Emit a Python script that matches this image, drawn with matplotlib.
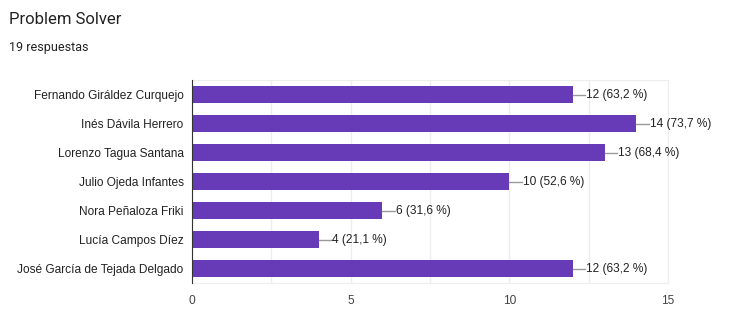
import matplotlib.pyplot as plt
import numpy as np

plt.rcParams['font.family'] = ['Roboto', 'DejaVu Sans']
CHART_FONT = ['Liberation Sans', 'DejaVu Sans']

TITLE     = 'Problem Solver'
SUBTITLE  = '19 respuestas'
names     = ['Fernando Giráldez Curquejo', 'Inés Dávila Herrero', 'Lorenzo Tagua Santana',
             'Julio Ojeda Infantes', 'Nora Peñaloza Friki', 'Lucía Campos Díez',
             'José García de Tejada Delgado']
counts    = [12, 14, 13, 10, 6, 4, 12]
percents  = ['63,2', '73,7', '68,4', '52,6', '31,6', '21,1', '63,2']
xticks    = [0, 5, 10, 15]

BAR_COLOR  = '#673ab7'
GRID_COLOR = '#ededed'
TEXT_COLOR = '#222222'
FS         = 8.6

fig = plt.figure(figsize = (7.42, 3.29), dpi = 100)
ax  = fig.add_axes([192 / 742, 1 - 283 / 329, 476 / 742, 203 / 329])

y = np.arange(len(names))
ax.barh(y, counts, height = 0.62, color = BAR_COLOR, zorder = 3)

# leader lines and value labels
for yi, c, p in zip(y, counts, percents):
  ax.plot([c, c + 0.4], [yi, yi], color = '#999999', lw = 1, zorder = 3)
  ax.text(c + 0.42, yi, fr'{c} ({p} %)', va = 'center', ha = 'left',
          fontsize = FS, color = TEXT_COLOR, family = CHART_FONT)

ax.set_ylim(len(names) - 0.5, -0.5)
ax.set_xlim(0, 15)
ax.set_yticks(y)
ax.set_yticklabels(names, fontsize = FS, color = TEXT_COLOR, family = CHART_FONT)
ax.set_xticks(xticks)
ax.set_xticklabels([str(t) for t in xticks], fontsize = FS, color = '#444444', family = CHART_FONT)
ax.set_xticks(np.arange(0, 15.1, 2.5), minor = True)
ax.tick_params(axis = 'both', length = 0, which = 'both')
ax.tick_params(axis = 'x', pad = 9)
ax.tick_params(axis = 'y', pad = 6)

ax.grid(axis = 'x', which = 'both', color = GRID_COLOR, lw = 1, zorder = 0)
for s in ['top', 'right', 'bottom']:
  ax.spines[s].set_color(GRID_COLOR)
ax.spines['left'].set_color('#333333')
ax.spines['left'].set_zorder(4)

fig.text(9 / 742, 1 - 20 / 329, TITLE, fontsize = 12, color = TEXT_COLOR, va = 'center')
fig.text(9 / 742, 1 - 47 / 329, SUBTITLE, fontsize = 9, color = TEXT_COLOR, va = 'center')

fig.savefig('out.png', dpi = 100)
